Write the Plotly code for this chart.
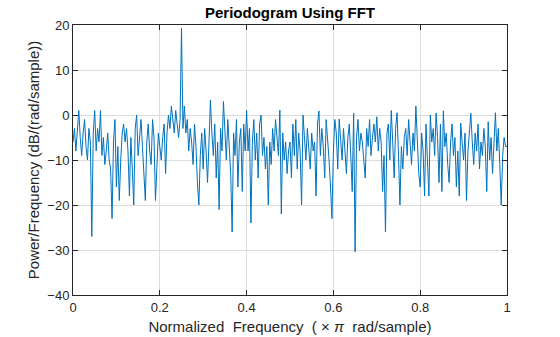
import numpy as np
import plotly.graph_objects as go

# Periodogram values (dB/(rad/sample)), 301 points over [0, 1]
seg0 = [-6, -3, -8, -2, 1, -5, -9, -4, -1, -7, -10, -3, -6, -27, -4, 1, -8, -3, -6, 1,
        -9, -5, -11, -8, -4, -10, -12, -23, -6, -1]
seg1 = [-16, -7, -19, -10, -4, -2, -6, -3, -8, -18, -5, -12, -20, -3, 0, -9, -4, -1, -7, -13,
        -19, -6, -2, -8, -11, -1, -5, -19, -9, -4]
seg2 = [-7, -10, -5, -2, -13, -4, 0, -3, 2, -1, -4, 1, -2, -5, -1, 19.3, -3, 2, -4, -1,
        -8, -3, -6, -11, -2, -7, -15, -20, -9, -4]
seg3 = [-12, -3, -8, -15, -6, 3.3, -4, -9, -2, -14, -6, -21, -3, -8, 3, -5, -10, -1, -7, -13,
        -26, -4, -9, -1, -16, -6, -3, -17, -2, -8]
seg4 = [1, -8, -3, -24, -6, -1, -10, -4, -14, -2, 0, -9, -5, -12, -7, -20, -6, -11, -3, -8,
        -1, -5, -9, 1.1, -22, -4, -10, -6, -13, -8]
seg5 = [-6, -14, -2, -9, -1, -12, -4, -8, -20, 0, -5, -10, -3, -7, -12, -4, -8, -6, -18, -2,
        0.9, -9, -3, -7, -14, -1, -5, -10, -16, -23]
seg6 = [-8, -1, -4, -12, -0.9, -6, -10, -3, -7, -13, -5, -2, -9, -17, 0.4, -30.4, -5, -1, -8, -4,
        -6, -11, -14, -3, -7, -1, -9, -5, -2, -6]
seg7 = [-0.4, -8, -3, -6, -17, -9, -26, -4, -2, -10, 1, -6, -14, -3, 0.5, -9, -20, -7, -12, -5,
        -3, -9, -1, -6, -11, -4, -8, 2, -5, -13]
seg8 = [-16, -4, -8, -18, -2, -10, -18, 0, -6, -3, -9, 0.4, -5, -15, -2, -17, 0.9, -7, -4, -11,
        -15, -6, -2, -9, -5, -16, -8, -18, -1.8, -6]
seg9 = [-10, -4, -19, -8, -3, 0.4, -6, -11, -4, -8, -2, -12, -6, -9, -3, -7, -17, -1.5, -10, -5,
        -13, -4, 0.5, -8, -3, -11, -20, -9, -5, -7, -7]

pxx_db = seg0 + seg1 + seg2 + seg3 + seg4 + seg5 + seg6 + seg7 + seg8 + seg9
freq = np.linspace(0, 1, len(pxx_db))

x_ticks = [0, 0.2, 0.4, 0.6, 0.8, 1]
x_ticklabels = ["0", "0.2", "0.4", "0.6", "0.8", "1"]
y_ticks = [-40, -30, -20, -10, 0, 10, 20]

font_family = "Liberation Sans, Arial, sans-serif"
axis_color = "#262626"
grid_color = "#dcdcdc"

fig = go.Figure()
fig.add_trace(go.Scatter(x=freq, y=pxx_db, mode="lines",
                         line=dict(color="#0072BD", width=1),
                         hoverinfo="skip", showlegend=False))

fig.update_layout(
    width=560, height=337,
    margin=dict(l=73, r=53, t=25, b=42),
    paper_bgcolor="white", plot_bgcolor="white",
    font=dict(family=font_family, color=axis_color, size=13),
    title=dict(text="<b>Periodogram Using FFT</b>", x=0.5, xanchor="center",
               xref="paper", y=0.962, yanchor="middle",
               font=dict(size=15, color="black", family=font_family)),
)
fig.update_xaxes(
    range=[0, 1], tickvals=x_ticks, ticktext=x_ticklabels, automargin=False,
    showgrid=True, gridcolor=grid_color, gridwidth=1,
    showline=True, linecolor=axis_color, linewidth=1, mirror="ticks",
    ticks="inside", ticklen=5, tickcolor=axis_color, zeroline=False,
    tickfont=dict(size=13, color=axis_color),
    title=dict(text="Normalized\u00a0\u00a0Frequency\u00a0\u00a0(\u00a0\u00d7\u00a0<i>\u03c0</i>\u00a0\u00a0rad/sample)",
               font=dict(size=15, color=axis_color), standoff=7),
)
fig.update_yaxes(
    range=[-40, 20], tickvals=y_ticks, automargin=False,
    showgrid=True, gridcolor=grid_color, gridwidth=1,
    showline=True, linecolor=axis_color, linewidth=1, mirror="ticks",
    ticks="inside", ticklen=5, tickcolor=axis_color, zeroline=False,
    tickfont=dict(size=13, color=axis_color),
    title=dict(text="Power/Frequency (dB/(rad/sample))",
               font=dict(size=15, color=axis_color), standoff=4),
)

fig.write_html("out.html")
